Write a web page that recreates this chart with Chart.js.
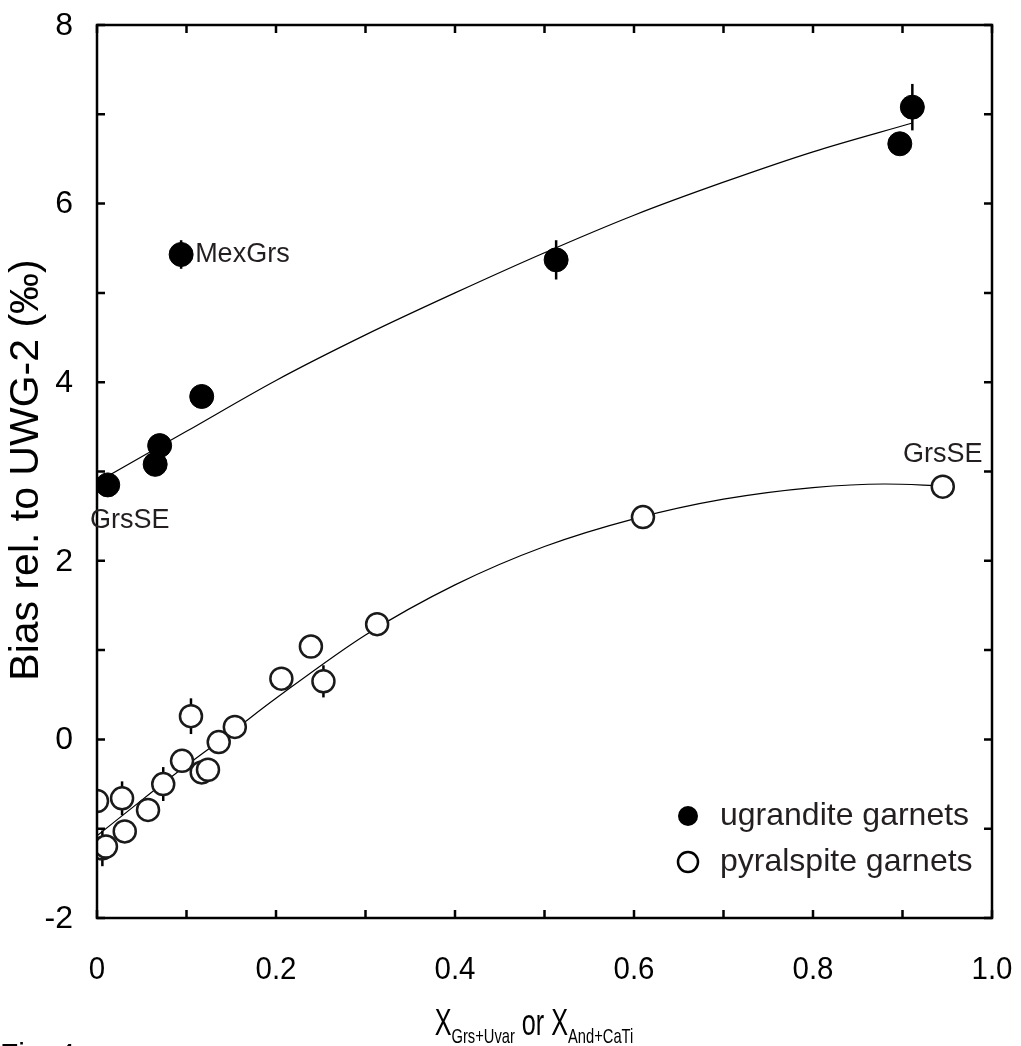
<!DOCTYPE html>
<html>
<head>
<meta charset="utf-8">
<script src="https://cdn.jsdelivr.net/npm/chart.js@4.4.1/dist/chart.umd.min.js"></script>
<style>
    body { margin: 0; background: #fff; }
    canvas { display: block; }
</style>
</head>
<body>
<canvas id="biasChart" width="1021" height="1046"></canvas>
<script>
// ugrandite garnets (filled)
const ugrX = [0.012, 0.065, 0.070, 0.117, 0.094, 0.513, 0.897, 0.911];
const ugrY = [2.85, 3.08, 3.29, 3.84, 5.43, 5.37, 6.67, 7.08];
const ugrErr = [0, 0, 0, 0, 0.16, 0.22, 0, 0.26];

// pyralspite garnets (open)
const pyrX = [0.0, 0.028, 0.006, 0.010, 0.031, 0.057, 0.074, 0.095, 0.105, 0.117, 0.124, 0.136, 0.154, 0.206, 0.239, 0.253, 0.313, 0.610, 0.945];
const pyrY = [-0.69, -0.66, -1.22, -1.20, -1.03, -0.79, -0.50, -0.24, 0.26, -0.37, -0.34, -0.03, 0.14, 0.68, 1.04, 0.65, 1.29, 2.49, 2.83];
const pyrErr = [0, 0.19, 0.2, 0, 0, 0, 0.19, 0, 0.2, 0, 0, 0, 0, 0, 0, 0.18, 0, 0, 0];

// fitted curves
const fitUgrX = [0, 0.1, 0.2, 0.3, 0.4, 0.5, 0.6, 0.7, 0.8, 0.91];
const fitUgrY = [2.88, 3.45, 4.02, 4.53, 5.0, 5.45, 5.87, 6.24, 6.58, 6.9];
const fitPyrX = [0, 0.05, 0.1, 0.15, 0.2, 0.3, 0.4, 0.5, 0.6, 0.7, 0.8, 0.88, 0.945];
const fitPyrY = [-1.08, -0.68, -0.29, 0.08, 0.46, 1.17, 1.73, 2.16, 2.47, 2.69, 2.82, 2.86, 2.84];

// tick labels
const xTickValues = [0, 0.2, 0.4, 0.6, 0.8, 1.0];
const xTickLabels = ['0', '0.2', '0.4', '0.6', '0.8', '1.0'];
const yTickValues = [-2, 0, 2, 4, 6, 8];
const yTickLabels = ['-2', '0', '2', '4', '6', '8'];

// point labels
const labelTexts = ['MexGrs', 'GrsSE', 'GrsSE'];
const labelX = [0.094, 0.012, 0.945];
const labelY = [5.43, 2.85, 2.83];

const legendLabels = ['ugrandite garnets', 'pyralspite garnets'];

const textColor = '#231f20';
const fontFamily = '"Liberation Sans", Arial, Helvetica, sans-serif';

function toPoints(xs, ys) {
    return xs.map((x, i) => ({ x: x, y: ys[i] }));
}

// condensed text: squeeze horizontally around the anchor point
function fillCondensed(ctx, text, px, py, squeeze, align) {
    ctx.save();
    ctx.translate(px, py);
    ctx.scale(squeeze, 1);
    ctx.textAlign = align;
    ctx.fillText(text, 0, 0);
    ctx.restore();
}

// Frame with inward ticks on all four sides, plus tick labels
const framePlugin = {
    id: 'frame',
    afterDraw(chart) {
        const { ctx, chartArea: a, scales: { x, y } } = chart;
        ctx.save();
        ctx.strokeStyle = '#000';
        ctx.lineWidth = 2.5;
        ctx.strokeRect(a.left, a.top, a.right - a.left, a.bottom - a.top);
        const len = 8;
        ctx.beginPath();
        for (let i = 0; i <= 10; i++) {
            const px = x.getPixelForValue(i / 10);
            ctx.moveTo(px, a.bottom); ctx.lineTo(px, a.bottom - len);
            ctx.moveTo(px, a.top); ctx.lineTo(px, a.top + len);
        }
        for (let v = -2; v <= 8; v++) {
            const py = y.getPixelForValue(v);
            ctx.moveTo(a.left, py); ctx.lineTo(a.left + len, py);
            ctx.moveTo(a.right, py); ctx.lineTo(a.right - len, py);
        }
        ctx.stroke();

        ctx.fillStyle = '#000';
        ctx.textBaseline = 'middle';
        ctx.font = '32px ' + fontFamily;
        yTickValues.forEach((v, i) => {
            ctx.textAlign = 'right';
            ctx.fillText(yTickLabels[i], a.left - 24, y.getPixelForValue(v) + 1);
        });
        ctx.font = '31px ' + fontFamily;
        xTickValues.forEach((v, i) => {
            fillCondensed(ctx, xTickLabels[i], x.getPixelForValue(v), a.bottom + 52, 0.95, 'center');
        });
        ctx.restore();
    }
};

// Vertical error bars, drawn under the markers
const errorBarPlugin = {
    id: 'errorBars',
    beforeDatasetsDraw(chart) {
        const { ctx, scales: { x, y } } = chart;
        const sets = [[ugrX, ugrY, ugrErr], [pyrX, pyrY, pyrErr]];
        ctx.save();
        ctx.strokeStyle = '#000';
        ctx.lineWidth = 2.5;
        sets.forEach(([xs, ys, es]) => {
            xs.forEach((xv, i) => {
                if (!es[i]) return;
                const px = x.getPixelForValue(xv);
                ctx.beginPath();
                ctx.moveTo(px, y.getPixelForValue(ys[i] - es[i]));
                ctx.lineTo(px, y.getPixelForValue(ys[i] + es[i]));
                ctx.stroke();
            });
        });
        ctx.restore();
    }
};

// Titles, annotations and legend
const textPlugin = {
    id: 'texts',
    afterDraw(chart) {
        const { ctx, chartArea: a, scales: { x, y } } = chart;
        ctx.save();
        ctx.fillStyle = textColor;

        // point labels
        ctx.font = '27px ' + fontFamily;
        ctx.textBaseline = 'middle';
        ctx.textAlign = 'left';
        ctx.fillText(labelTexts[0], x.getPixelForValue(labelX[0]) + 14, y.getPixelForValue(labelY[0]));
        ctx.textAlign = 'center';
        ctx.fillText(labelTexts[1], x.getPixelForValue(labelX[1]) + 22, y.getPixelForValue(labelY[1]) + 36);
        ctx.fillText(labelTexts[2], x.getPixelForValue(labelX[2]), y.getPixelForValue(labelY[2]) - 32);

        // legend
        const lx = 688;
        const rows = [816, 862];
        ctx.font = '32px ' + fontFamily;
        ctx.textAlign = 'left';
        rows.forEach((ry, i) => {
            ctx.beginPath();
            ctx.arc(lx, ry, 10, 0, Math.PI * 2);
            if (i === 0) {
                ctx.fillStyle = '#000';
                ctx.fill();
            } else {
                ctx.lineWidth = 2.5;
                ctx.strokeStyle = '#000';
                ctx.stroke();
            }
            ctx.fillStyle = textColor;
            ctx.fillText(legendLabels[i], lx + 32, ry);
        });

        // y axis title
        ctx.save();
        ctx.translate(27, 470);
        ctx.rotate(-Math.PI / 2);
        ctx.textAlign = 'center';
        ctx.fillStyle = '#000';
        ctx.font = '41px ' + fontFamily;
        ctx.fillText('Bias rel. to UWG-2 (‰)', 0, 0);
        ctx.restore();

        // x axis title with subscripts (condensed)
        const squeeze = 0.7;
        const parts = [['X', false], ['Grs+Uvar', true], [' or ', false], ['X', false], ['And+CaTi', true]];
        const bigFont = '36px ' + fontFamily;
        const smallFont = '21px ' + fontFamily;
        let total = 0;
        parts.forEach(([t, sub]) => {
            ctx.font = sub ? smallFont : bigFont;
            total += ctx.measureText(t).width * squeeze;
        });
        let cx = 534 - total / 2;
        ctx.textBaseline = 'alphabetic';
        ctx.fillStyle = '#000';
        parts.forEach(([t, sub]) => {
            ctx.font = sub ? smallFont : bigFont;
            fillCondensed(ctx, t, cx, sub ? 1043 : 1035, squeeze, 'left');
            cx += ctx.measureText(t).width * squeeze;
        });

        // figure caption, cut by the bottom edge
        ctx.font = '30px ' + fontFamily;
        ctx.textAlign = 'left';
        ctx.fillText('Fig. 4', 0, 1064);
        ctx.restore();
    }
};

const ctx = document.getElementById('biasChart').getContext('2d');
const biasChart = new Chart(ctx, {
    type: 'scatter',
    data: {
        datasets: [
            {
                label: legendLabels[0],
                data: toPoints(ugrX, ugrY),
                backgroundColor: '#000',
                borderColor: '#000',
                borderWidth: 1,
                pointRadius: 12,
                order: 0
            },
            {
                label: legendLabels[1],
                data: toPoints(pyrX, pyrY),
                backgroundColor: '#fff',
                borderColor: '#1a1a1a',
                borderWidth: 2.5,
                pointRadius: 11,
                order: 0
            },
            {
                type: 'line',
                label: 'fit ugrandite',
                data: toPoints(fitUgrX, fitUgrY),
                borderColor: '#000',
                borderWidth: 1.2,
                pointRadius: 0,
                fill: false,
                cubicInterpolationMode: 'monotone',
                order: 1
            },
            {
                type: 'line',
                label: 'fit pyralspite',
                data: toPoints(fitPyrX, fitPyrY),
                borderColor: '#000',
                borderWidth: 1.2,
                pointRadius: 0,
                fill: false,
                cubicInterpolationMode: 'monotone',
                order: 1
            }
        ]
    },
    options: {
        responsive: false,
        animation: false,
        layout: {
            padding: { left: 0, top: 25, right: 29, bottom: 0 }
        },
        plugins: {
            legend: { display: false },
            tooltip: { enabled: false }
        },
        scales: {
            x: {
                type: 'linear',
                min: 0,
                max: 1,
                afterFit: scale => { scale.height = 128; },
                grid: { display: false, drawTicks: false },
                border: { display: false },
                ticks: { display: false }
            },
            y: {
                type: 'linear',
                min: -2,
                max: 8,
                afterFit: scale => { scale.width = 97; },
                grid: { display: false, drawTicks: false },
                border: { display: false },
                ticks: { display: false }
            }
        }
    },
    plugins: [errorBarPlugin, framePlugin, textPlugin]
});
</script>
</body>
</html>
